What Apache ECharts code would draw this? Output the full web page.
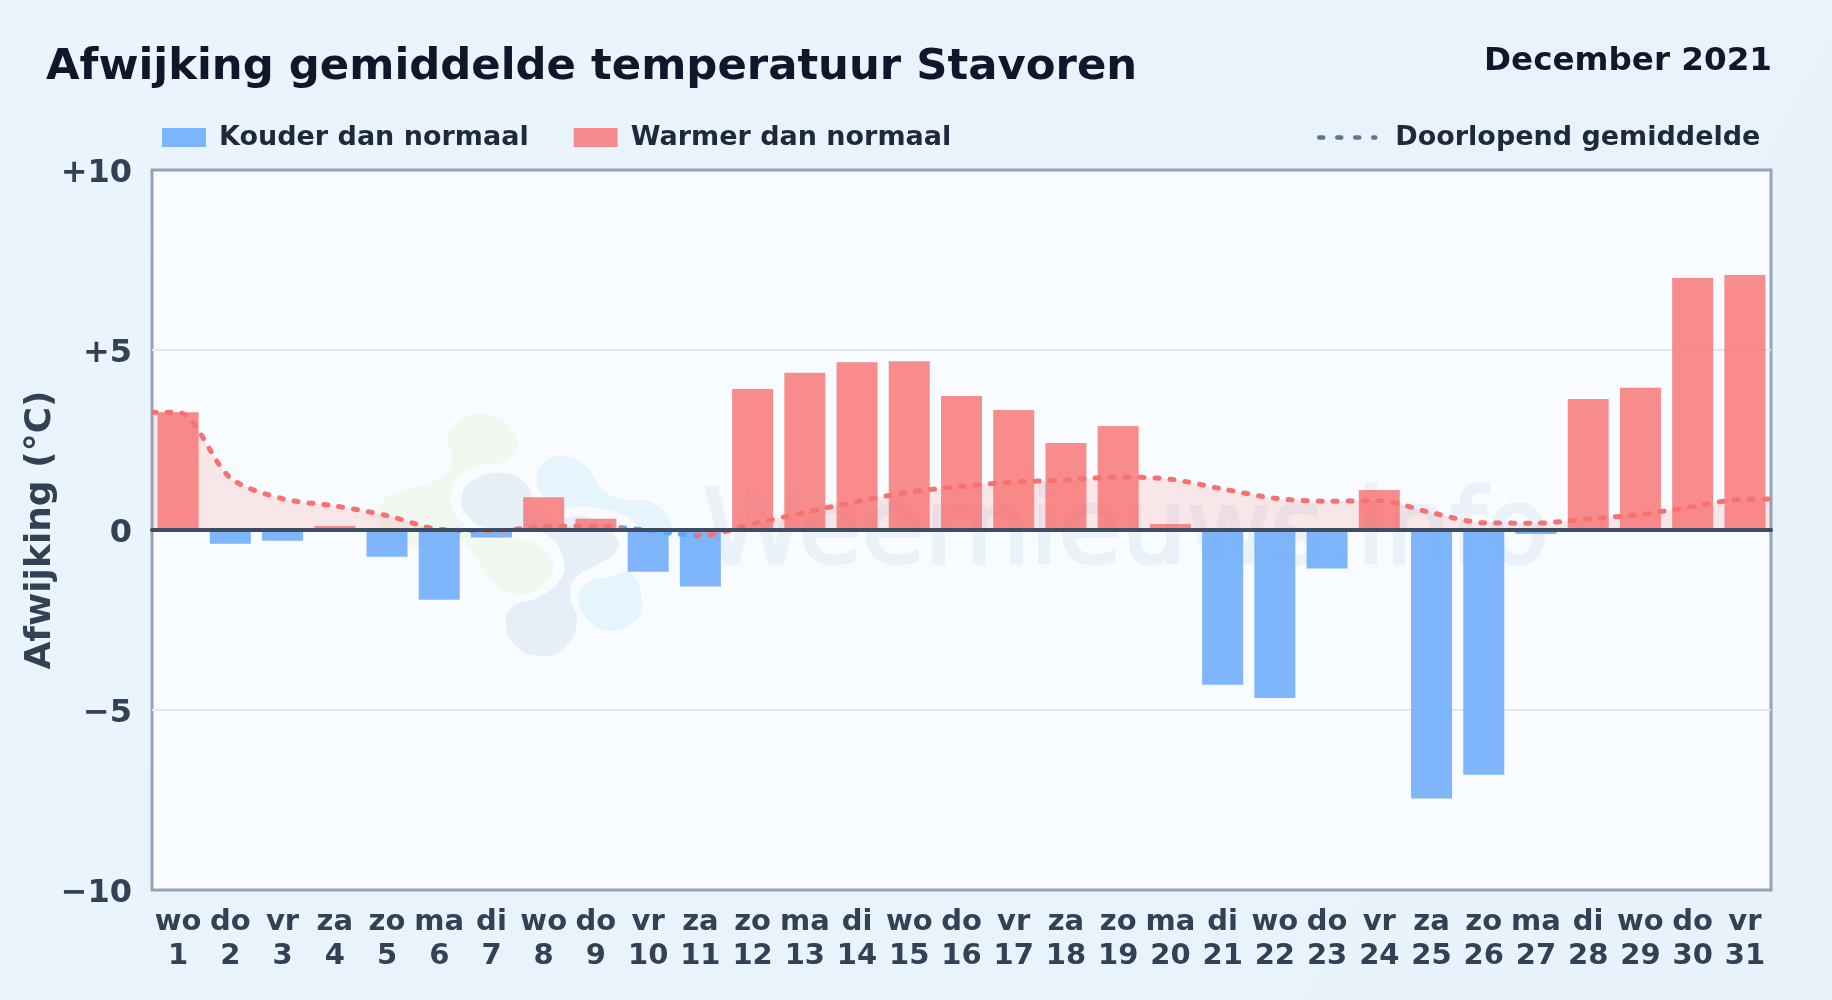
<!DOCTYPE html>
<html><head><meta charset="utf-8">
<style>html,body{margin:0;padding:0;background:#e9f3fc}#c{width:1832px;height:1000px}</style>
<script src="https://cdn.jsdelivr.net/npm/echarts@6/dist/echarts.min.js"></script>
</head><body><div id="c"></div>
<script>
const titleText = 'Afwijking gemiddelde temperatuur Stavoren';
const periodText = 'December 2021';
const yName = 'Afwijking (°C)';
const watermarkText = 'Weernieuws.info';
const weekdays = ['wo','do','vr','za','zo','ma','di','wo','do','vr','za','zo','ma','di','wo','do','vr','za','zo','ma','di','wo','do','vr','za','zo','ma','di','wo','do','vr'];
const deviations = [3.27,-0.38,-0.30,0.11,-0.74,-1.94,-0.21,0.91,0.31,-1.16,-1.57,3.92,4.37,4.66,4.69,3.72,3.33,2.42,2.89,0.17,-4.30,-4.67,-1.07,1.11,-7.46,-6.80,-0.11,3.64,3.95,7.00,7.08];
const runningMean = [3.27,1.45,0.87,0.67,0.40,0.02,-0.02,0.09,0.11,-0.01,-0.16,0.17,0.49,0.79,1.05,1.21,1.33,1.39,1.47,1.41,1.14,0.88,0.80,0.81,0.48,0.20,0.19,0.31,0.43,0.65,0.86];
const colorCold = 'rgba(96,165,250,0.8)';
const colorWarm = 'rgba(248,113,113,0.8)';
const ink = '#334155';

const days = weekdays.map((d,i)=> d + '\n' + (i+1));
const cold = deviations.map(v => v < 0 ? v : null);
const warm = deviations.map(v => v >= 0 ? v : null);
const meanPts = runningMean.map((v,i)=>[i+1,v]);
const linePts = [[0.5,runningMean[0]],...meanPts,[31.5,runningMean[30]]];

const logoBlobs = [
 {fill:'#f1f8f0',points:[[265,130],[360,72],[465,130],[450,205],[345,230],[285,280],[275,345],[330,415],[430,440],[540,470],[580,530],[540,590],[470,610],[400,580],[340,490],[295,450],[150,472],[65,420],[70,335],[130,300],[240,265],[275,205]]},
 {fill:'#e6eff8',points:[[305,320],[350,265],[430,250],[500,285],[530,350],[580,385],[680,380],[760,430],[770,480],[710,525],[650,560],[630,610],[650,700],[610,775],[540,798],[470,770],[438,700],[460,650],[540,620],[600,570],[610,510],[560,435],[470,418],[400,420],[330,385]]},
 {fill:'#e6f4fd',points:[[530,260],[560,212],[620,200],[680,232],[730,300],[790,328],[870,335],[925,385],[932,430],[860,420],[790,375],[700,352],[610,350],[560,330]]},
 {fill:'#e6f4fd',points:[[655,625],[680,580],[750,560],[815,550],[845,650],[815,700],[755,722],[690,695]]}
];

const chart = echarts.init(document.getElementById('c'), null, {renderer:'canvas'});
chart.setOption({
  animation:false,
  backgroundColor:{type:'linear',x:0,y:0,x2:1,y2:1,colorStops:[{offset:0,color:'#eaf4fd'},{offset:1,color:'#e8f2fb'}]},
  textStyle:{fontFamily:'DejaVu Sans'},
  title:[
    {text:titleText,left:41,top:41,textStyle:{fontFamily:'DejaVu Sans',fontSize:43.35,fontWeight:'bold',color:'#0f172a'}},
    {text:periodText,right:55,top:40,textStyle:{fontFamily:'DejaVu Sans',fontSize:32.6,fontWeight:'bold',color:'#0f172a'}}
  ],
  legend:[
    {left:157,top:119,itemWidth:44,itemHeight:19,itemGap:45,selectedMode:false,
     textStyle:{fontFamily:'DejaVu Sans',fontSize:27,fontWeight:'bold',color:'#1e293b',padding:[2,0,0,8]},
     data:[{name:'Kouder dan normaal',icon:'rect'},{name:'Warmer dan normaal',icon:'rect'}]},
    {left:1312,top:119,itemWidth:56,itemHeight:19,selectedMode:false,
     textStyle:{fontFamily:'DejaVu Sans',fontSize:27,fontWeight:'bold',color:'#1e293b',padding:[2,0,0,15]},
     data:[{name:'Doorlopend gemiddelde',itemStyle:{color:'transparent',opacity:0,borderWidth:0},lineStyle:{color:'#64748b',width:4.5,type:[4,14]}}]}
  ],
  grid:{left:152,right:61,top:170,bottom:110,show:true,backgroundColor:'#f8fbff',borderColor:'#94a3b8',borderWidth:3,containLabel:false},
  xAxis:[
    {type:'category',data:days,position:'bottom',axisLine:{show:false,onZero:false},axisTick:{show:false},splitLine:{show:false},
     axisLabel:{interval:0,margin:15,fontFamily:'DejaVu Sans',fontSize:29,fontWeight:'bold',color:ink,lineHeight:34}},
    {type:'value',min:0.5,max:31.5,position:'top',show:true,z:10,axisLine:{show:true,onZero:true,lineStyle:{color:'#3f4d63',width:4}},axisTick:{show:false},axisLabel:{show:false},splitLine:{show:false}}
  ],
  yAxis:{type:'value',min:-10,max:10,interval:5,name:yName,nameLocation:'middle',nameGap:93,nameMoveOverlap:false,
    nameTextStyle:{fontFamily:'DejaVu Sans',fontSize:36,fontWeight:'bold',color:ink},
    axisLine:{show:false},axisTick:{show:false},splitLine:{showMinLine:false,showMaxLine:false,lineStyle:{color:'#e2e8ee',width:2}},
    axisLabel:{margin:20,verticalAlign:'top',lineHeight:7,fontFamily:'DejaVu Sans',fontSize:32,fontWeight:'bold',color:ink,
      formatter:v=> v>0 ? '+'+v : v<0 ? '\u2212'+Math.abs(v) : '0'}},
  visualMap:{show:false,seriesIndex:2,dimension:0,pieces:[
    {min:0.5,max:6.2,color:'#f87171'},{min:6.2,max:6.7,color:'#60a5fa'},{min:6.7,max:9.5,color:'#f87171'},
    {min:9.5,max:10.9,color:'#60a5fa'},{min:10.9,max:31.5,color:'#f87171'}]},
  graphic:[
    ...logoBlobs.map(b=>({type:'polygon',x:360,y:390,scaleX:1/3,scaleY:1/3,z:1,silent:true,shape:{points:b.points,smooth:0.5},style:{fill:b.fill}})),
    {type:'text',x:703,y:588,z:1,silent:true,style:{text:watermarkText,fontFamily:'DejaVu Sans',fontSize:102.6,fill:'#e9f1f9',stroke:'#e9f1f9',lineWidth:3,verticalAlign:'bottom'}}
  ],
  series:[
    {name:'Kouder dan normaal',type:'bar',stack:'d',barWidth:'78.5%',data:cold,itemStyle:{color:colorCold},z:3},
    {name:'Warmer dan normaal',type:'bar',stack:'d',barWidth:'78.5%',data:warm,itemStyle:{color:colorWarm},z:3},
    {name:'Doorlopend gemiddelde',type:'line',xAxisIndex:1,data:linePts,smooth:0.3,symbol:'none',z:4,
     lineStyle:{width:5,type:[4,11],cap:'round'},areaStyle:{opacity:0.15}}
  ]
});
</script></body></html>
